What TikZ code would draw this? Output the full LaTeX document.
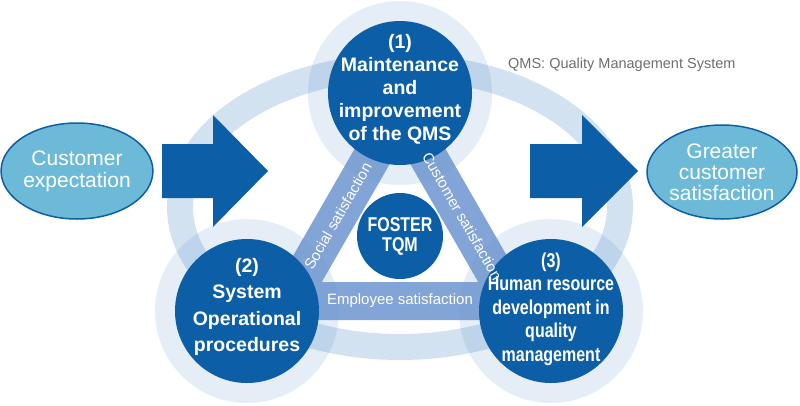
\documentclass[tikz,border=0pt]{standalone}
\usepackage{fontspec}
\setmainfont{Liberation Sans}
\newfontfamily\narrowfont[FakeStretch=0.8]{Liberation Sans}
\usetikzlibrary{shapes.geometric}
\definecolor{darkblue}{RGB}{12,94,166}
\definecolor{skyblue}{RGB}{108,186,216}
\definecolor{bandblue}{RGB}{116,154,210}
\definecolor{paleblue}{RGB}{51,122,189}
\definecolor{notegray}{RGB}{110,110,110}
\begin{document}
\begin{tikzpicture}[x=1pt,y=-1pt,
  disk/.style={circle,fill=darkblue,minimum size=144pt,inner sep=0pt},
  disktext/.style={text=white,inner sep=0pt,align=center,font=\bfseries\fontsize{19.5}{23}\selectfont},
  goal/.style={ellipse,draw=darkblue,line width=1.5pt,fill=skyblue,text=white,minimum width=150pt,minimum height=96pt,inner sep=0pt,align=center,font=\fontsize{21}{22}\selectfont},
  halo/.style={fill=paleblue,fill opacity=0.13},
  band/.style={draw=bandblue,draw opacity=0.9,line width=38pt,line join=round},
  bandlabel/.style={sloped,text=white,inner sep=0pt,font=\fontsize{15}{15}\selectfont}]
\useasboundingbox (0,0) rectangle (800,405);

\path[draw=paleblue,draw opacity=0.22,line width=26pt] (400,207) ellipse [x radius=220, y radius=140];

\coordinate (c1) at (400,93);
\coordinate (c2) at (247,311);
\coordinate (c3) at (551,311);
\fill[halo] (c1) circle [radius=92];
\fill[halo] (c2) circle [radius=92];
\fill[halo] (c3) circle [radius=92];

\coordinate (t1) at (400,108);
\coordinate (t2) at (289,301);
\coordinate (t3) at (511,301);
\path[band] (t1) -- (t2) -- (t3) -- cycle;

\node[disk] (qms) at (c1) {};
\node[disk] (sys) at (c2) {};
\node[disk] (hr) at (c3) {};
\node[disk,minimum size=86pt] (tqm) at (400,236) {};
\node[disktext,yshift=4pt] (qmstext) at (qms) {(1)\\Maintenance\\and\\improvement\\of the QMS};
\node[disktext,yshift=4pt,font=\bfseries\fontsize{19.5}{26.5}\selectfont] (systext) at (sys) {(2)\\System\\Operational\\procedures};
\node[disktext,yshift=2pt,font=\narrowfont\bfseries\fontsize{20}{23.5}\selectfont] (hrtext) at (hr) {(3)\\Human resource\\development in\\quality\\management};
\node[disktext,font=\narrowfont\bfseries\fontsize{20}{20}\selectfont] (tqmtext) at (tqm) {FOSTER\\TQM};

\path (t2) -- node[bandlabel,pos=0.44] {Social satisfaction} (t1);
\path (t1) -- node[bandlabel,pos=0.56] {Customer satisfaction} (t3);
\path (t2) -- node[bandlabel] {Employee satisfaction} (t3);

\node[goal] (expect) at (77,171) {Customer\\expectation};
\node[goal,minimum height=94pt,font=\fontsize{21}{21}\selectfont] (result) at (722,172) {Greater\\customer\\satisfaction};

\fill[darkblue] (162,144) -- (213,144) -- (213,115) -- (268,171) -- (213,227) -- (213,198) -- (162,198) -- cycle;
\fill[darkblue] (530,144) -- (582,144) -- (582,115) -- (638,171) -- (582,227) -- (582,198) -- (530,198) -- cycle;

\node[anchor=west,text=notegray,inner sep=0pt,font=\fontsize{14.5}{14.5}\selectfont] (note) at (508,65) {QMS: Quality Management System};
\end{tikzpicture}
\end{document}
